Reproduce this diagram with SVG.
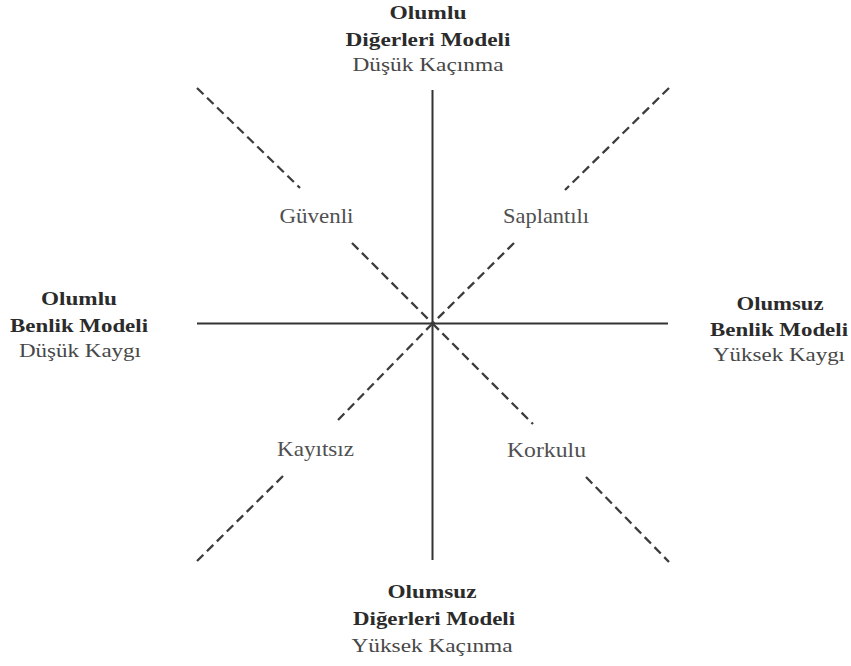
<svg xmlns="http://www.w3.org/2000/svg" width="851" height="666" viewBox="0 0 851 666">
<style>
.axis{stroke:#333;stroke-width:2;fill:none}
.dash{stroke:#3c3c3c;stroke-width:2.3;stroke-dasharray:9 5;fill:none}
.b{font-family:"Liberation Serif","Times New Roman",serif;font-weight:bold;font-size:18px;fill:#2b2b2b;text-anchor:middle}
.r{font-family:"Liberation Serif","Times New Roman",serif;font-size:18px;fill:#474747;text-anchor:middle}
.q{font-family:"Liberation Serif","Times New Roman",serif;font-size:22px;fill:#505050;text-anchor:middle}
</style>
<rect width="851" height="666" fill="#fff"/>
<g id="connectors">
<line class="axis" x1="432.5" y1="90" x2="432.5" y2="560"/>
<line class="axis" x1="197" y1="323.5" x2="668" y2="323.5"/>
<line class="dash" x1="197" y1="88" x2="300" y2="188"/>
<line class="dash" x1="352" y1="243" x2="432.5" y2="323.5"/>
<line class="dash" x1="669" y1="88" x2="565" y2="190"/>
<line class="dash" x1="514" y1="243" x2="432.5" y2="323.5"/>
<line class="dash" x1="432.5" y1="323.5" x2="337" y2="421"/>
<line class="dash" x1="283" y1="476" x2="197" y2="561"/>
<line class="dash" x1="432.5" y1="323.5" x2="533" y2="424"/>
<line class="dash" x1="586" y1="477" x2="669" y2="562"/>
</g>
<g id="top">
<text class="b" x="428" y="19" textLength="77" lengthAdjust="spacingAndGlyphs">Olumlu</text>
<text class="b" x="428" y="46" textLength="165" lengthAdjust="spacingAndGlyphs">Diğerleri Modeli</text>
<text class="r" x="428" y="71" textLength="151" lengthAdjust="spacingAndGlyphs">Düşük Kaçınma</text>
</g>
<g id="left">
<text class="b" x="79" y="305" textLength="76" lengthAdjust="spacingAndGlyphs">Olumlu</text>
<text class="b" x="79" y="332" textLength="138" lengthAdjust="spacingAndGlyphs">Benlik Modeli</text>
<text class="r" x="80" y="357" textLength="122" lengthAdjust="spacingAndGlyphs">Düşük Kaygı</text>
</g>
<g id="right">
<text class="b" x="780" y="310" textLength="87" lengthAdjust="spacingAndGlyphs">Olumsuz</text>
<text class="b" x="779" y="336" textLength="138" lengthAdjust="spacingAndGlyphs">Benlik Modeli</text>
<text class="r" x="779" y="361" textLength="132" lengthAdjust="spacingAndGlyphs">Yüksek Kaygı</text>
</g>
<g id="bottom">
<text class="b" x="432" y="598" textLength="89" lengthAdjust="spacingAndGlyphs">Olumsuz</text>
<text class="b" x="434" y="625" textLength="162" lengthAdjust="spacingAndGlyphs">Diğerleri Modeli</text>
<text class="r" x="432" y="652" textLength="161" lengthAdjust="spacingAndGlyphs">Yüksek Kaçınma</text>
</g>
<g id="guvenli"><text class="q" x="316.5" y="223" textLength="74" lengthAdjust="spacingAndGlyphs">Güvenli</text></g>
<g id="saplantili"><text class="q" x="546" y="223" textLength="86" lengthAdjust="spacingAndGlyphs">Saplantılı</text></g>
<g id="kayitsiz"><text class="q" x="315.5" y="456" textLength="77" lengthAdjust="spacingAndGlyphs">Kayıtsız</text></g>
<g id="korkulu"><text class="q" x="546.5" y="457" textLength="79" lengthAdjust="spacingAndGlyphs">Korkulu</text></g>
</svg>
